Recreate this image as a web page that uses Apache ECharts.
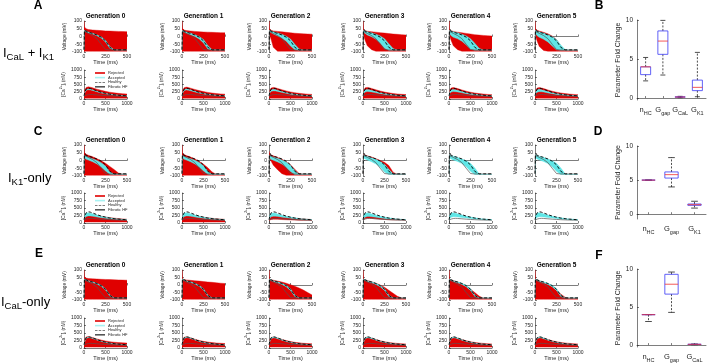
<!DOCTYPE html>
<html>
<head>
<meta charset="utf-8">
<script src="https://cdn.jsdelivr.net/npm/echarts@6/dist/echarts.min.js"></script>
<style>
  html, body { margin: 0; padding: 0; background: #fff; }
  #chart { width: 708px; height: 364px; }
</style>
</head>
<body>
<div id="chart"></div>
<script>
// ---- data ----
const generations = ['Generation 0', 'Generation 1', 'Generation 2', 'Generation 3', 'Generation 4', 'Generation 5'];
const tV = [0, 5, 25, 50, 100, 150, 200, 250, 300, 350, 400, 450, 500];
const tCa = [0, 25, 50, 100, 150, 200, 300, 400, 500, 600, 700, 800, 900, 1000];

// reference traces
const healthyV = [-85, 40, 34, 28, 20, 10, -4, -28, -70, -86, -86, -86, -86];
const hfV = [-85, 32, 27, 20, 6, -14, -50, -84, -87, -87, -87, -87, -87];
const healthyCa = [110, 260, 340, 375, 360, 335, 280, 230, 195, 165, 145, 130, 118, 110];
const hfCa = [95, 110, 130, 150, 155, 152, 140, 128, 118, 110, 104, 99, 95, 92];

const V_FLOOR = [-95, -95, -95, -95, -95, -95, -95, -95, -95, -95, -95, -95, -95];
const CA_FLOOR = [30, 30, 30, 30, 30, 30, 30, 30, 30, 30, 30, 30, 30, 30];

// row A : ICaL + IK1
const A_rejV_hi = [
  [100, 62, 50, 45, 42, 40, 38, 36, 35, 34, 33, 32, 31],
  [100, 52, 42, 38, 35, 33, 31, 29, 28, 27, 26, 25, 24],
  [100, 48, 40, 36, 33, 30, 27, 24, 21, 19, 17, 16, 15],
  [100, 44, 38, 34, 31, 28, 25, 22, 19, 16, 14, 12, 10],
  [100, 44, 37, 33, 28, 24, 20, 16, 12, 9, 7, 5, 3],
  [100, 46, 40, 35, 27, 17, 3, -20, -60, -88, -90, -90, -90]
];
const A_rejV_lo = [
  V_FLOOR,
  V_FLOOR,
  [-85, 15, -20, -70, -95, -95, -95, -95, -95, -95, -95, -95, -95],
  [-85, 10, -25, -60, -85, -95, -95, -95, -95, -95, -95, -95, -95],
  [-85, 10, -25, -60, -85, -95, -95, -95, -95, -95, -95, -95, -95],
  [-85, 5, -30, -65, -90, -95, -95, -95, -95, -95, -95, -95, -95]
];
const A_accV_hi = [
  [-85, 40, 35, 29, 21, 11, -2, -24, -64, -86, -87, -87, -87],
  [-85, 40, 35, 29, 22, 12, 0, -20, -58, -85, -87, -87, -87],
  [-85, 40, 36, 30, 23, 14, 2, -16, -50, -80, -88, -88, -88],
  [-85, 40, 36, 31, 24, 15, 4, -14, -46, -78, -88, -88, -88],
  [-85, 40, 36, 31, 24, 15, 4, -14, -44, -76, -88, -88, -88],
  [-85, 40, 36, 30, 22, 12, 0, -20, -55, -84, -88, -88, -88]
];
const A_accV_lo = [
  [-85, 36, 31, 25, 16, 5, -10, -36, -76, -87, -87, -87, -87],
  [-85, 34, 29, 22, 12, 0, -16, -42, -80, -87, -87, -87, -87],
  [-85, 30, 24, 16, 4, -10, -30, -62, -86, -88, -88, -88, -88],
  [-85, 28, 20, 10, -2, -18, -42, -75, -88, -88, -88, -88, -88],
  [-85, 20, 5, -5, -15, -30, -55, -82, -88, -88, -88, -88, -88],
  [-85, 20, 5, -5, -18, -35, -62, -86, -88, -88, -88, -88, -88]
];
const A_rejCa_hi = [
  [220, 340, 400, 420, 405, 385, 340, 300, 265, 235, 212, 195, 182, 172],
  [200, 330, 390, 410, 395, 375, 330, 290, 255, 228, 205, 188, 176, 166],
  [190, 320, 380, 400, 385, 365, 320, 280, 245, 218, 196, 180, 168, 158],
  [180, 320, 385, 400, 385, 365, 318, 276, 240, 212, 190, 174, 162, 152],
  [180, 320, 380, 395, 380, 360, 312, 270, 235, 208, 186, 170, 158, 150],
  [180, 320, 380, 395, 380, 360, 312, 270, 235, 208, 186, 170, 158, 150]
];
const A_rejCa_lo = [CA_FLOOR, CA_FLOOR, CA_FLOOR, CA_FLOOR, CA_FLOOR, CA_FLOOR];
const A_accCa_hi = [
  [120, 265, 325, 345, 335, 315, 265, 222, 190, 165, 146, 132, 120, 112],
  [120, 265, 325, 345, 335, 315, 265, 222, 190, 165, 146, 132, 120, 112],
  [125, 270, 320, 335, 325, 305, 260, 220, 188, 163, 145, 131, 119, 111],
  [130, 275, 320, 330, 320, 300, 258, 218, 186, 162, 144, 130, 118, 110],
  [130, 275, 320, 330, 320, 300, 258, 218, 186, 162, 144, 130, 118, 110],
  [130, 280, 325, 335, 322, 302, 258, 218, 186, 162, 144, 130, 118, 110]
];
const A_accCa_lo = [
  [110, 240, 300, 320, 312, 295, 250, 210, 180, 157, 140, 126, 115, 108],
  [110, 235, 290, 310, 302, 285, 242, 204, 175, 153, 136, 123, 113, 106],
  [108, 220, 265, 280, 275, 262, 228, 195, 168, 148, 132, 120, 111, 104],
  [105, 200, 240, 255, 252, 242, 212, 184, 160, 142, 128, 117, 108, 102],
  [105, 200, 240, 255, 252, 242, 212, 184, 160, 142, 128, 117, 108, 102],
  [105, 195, 235, 250, 248, 238, 210, 182, 158, 140, 126, 115, 107, 101]
];

// row C : IK1-only
const C_rejV_hi = [
  [100, 46, 40, 34, 24, 12, -2, -18, -38, -58, -80, -90, -90],
  [100, 44, 38, 32, 22, 10, -6, -24, -46, -74, -90, -90, -90],
  [60, 40, 35, 30, 20, 8, -8, -28, -56, -84, -90, -90, -90],
  [-85, 38, 34, 30, 22, 12, 0, -12, -32, -75, -90, -90, -90],
  null,
  null
];
const C_rejV_lo = [
  V_FLOOR,
  V_FLOOR,
  [-85, 15, -5, -30, -60, -85, -95, -95, -95, -95, -95, -95, -95],
  [-85, 34, 30, 26, 18, 8, -6, -26, -60, -88, -90, -90, -90],
  null,
  null
];
const C_accV_hi = [
  [-85, 32, 26, 21, 11, 0, -14, -36, -72, -88, -88, -88, -88],
  [-85, 32, 26, 21, 12, 1, -13, -34, -70, -88, -88, -88, -88],
  [-85, 34, 28, 23, 14, 4, -10, -30, -64, -88, -88, -88, -88],
  [-85, 36, 31, 27, 18, 8, -6, -24, -56, -86, -88, -88, -88],
  [-85, 36, 32, 28, 20, 10, -2, -18, -48, -86, -90, -90, -90],
  [-85, 36, 32, 28, 20, 10, -2, -18, -48, -86, -90, -90, -90]
];
const C_accV_lo = [
  [-85, 18, 8, 3, -8, -22, -42, -68, -88, -90, -90, -90, -90],
  [-85, 18, 8, 3, -8, -22, -42, -68, -88, -90, -90, -90, -90],
  [-85, 17, 7, 2, -9, -23, -43, -71, -90, -90, -90, -90, -90],
  [-85, 18, 10, 4, -8, -22, -42, -74, -90, -90, -90, -90, -90],
  [-85, 18, 10, 4, -6, -20, -40, -70, -90, -90, -90, -90, -90],
  [-85, 18, 10, 4, -6, -20, -40, -70, -90, -90, -90, -90, -90]
];
const C_rejCa_hi = [
  [180, 270, 300, 310, 300, 285, 255, 225, 200, 180, 162, 148, 136, 126],
  [170, 260, 290, 300, 290, 275, 245, 215, 192, 172, 156, 142, 132, 122],
  [150, 235, 262, 272, 264, 252, 226, 200, 178, 160, 146, 134, 124, 116],
  [120, 190, 225, 245, 240, 230, 205, 182, 162, 146, 133, 123, 115, 108],
  null,
  null
];
const C_rejCa_lo = [
  CA_FLOOR,
  CA_FLOOR,
  [80, 100, 115, 125, 125, 122, 115, 108, 102, 97, 93, 90, 88, 86],
  [100, 130, 150, 160, 158, 152, 140, 128, 118, 110, 104, 100, 96, 94],
  null,
  null
];
const C_accCa_hi = [
  [140, 290, 330, 340, 325, 305, 265, 228, 198, 172, 152, 137, 124, 114],
  [140, 290, 330, 340, 325, 305, 265, 228, 198, 172, 152, 137, 124, 114],
  [140, 285, 325, 336, 322, 302, 262, 226, 196, 171, 151, 136, 123, 113],
  [140, 285, 325, 336, 322, 302, 262, 226, 196, 171, 151, 136, 123, 113],
  [140, 290, 330, 340, 325, 305, 265, 228, 198, 172, 152, 137, 124, 114],
  [140, 290, 330, 340, 325, 305, 265, 228, 198, 172, 152, 137, 124, 114]
];
const C_accCa_lo = [
  [110, 175, 215, 235, 232, 222, 198, 176, 157, 140, 126, 115, 106, 100],
  [110, 175, 215, 235, 232, 222, 198, 176, 157, 140, 126, 115, 106, 100],
  [110, 170, 205, 225, 224, 216, 194, 173, 155, 139, 125, 114, 105, 99],
  [110, 165, 195, 215, 215, 208, 188, 169, 152, 137, 124, 113, 105, 99],
  [110, 160, 190, 210, 210, 204, 186, 167, 150, 136, 123, 112, 104, 98],
  [110, 160, 190, 210, 210, 204, 186, 167, 150, 136, 123, 112, 104, 98]
];

// row E : ICaL-only
const E_rejV_hi = [
  [100, 52, 46, 43, 41, 40, 38, 37, 36, 35, 34, 33, 32],
  [100, 42, 37, 34, 31, 28, 26, 23, 20, 18, 15, 12, 10],
  [100, 40, 35, 32, 26, 20, 12, 2, -8, -20, -34, -50, -66],
  [100, 40, 35, 30, 22, 12, 0, -15, -35, -55, -75, -86, -90],
  [100, 40, 35, 30, 20, 8, -8, -28, -50, -74, -88, -90, -90],
  [100, 40, 35, 29, 18, 5, -12, -35, -60, -82, -90, -90, -90]
];
const E_rejV_lo = [V_FLOOR, V_FLOOR, V_FLOOR, V_FLOOR, V_FLOOR, V_FLOOR];
const E_accV_hi = [
  [-85, 40, 35, 29, 21, 11, -2, -25, -66, -86, -87, -87, -87],
  [-85, 40, 35, 29, 21, 11, -2, -25, -66, -86, -87, -87, -87],
  [-85, 40, 35, 29, 21, 11, -2, -25, -66, -86, -87, -87, -87],
  [-85, 40, 35, 29, 21, 11, -2, -25, -66, -86, -87, -87, -87],
  [-85, 40, 35, 29, 21, 11, -2, -25, -66, -86, -87, -87, -87],
  [-85, 40, 35, 29, 21, 11, -2, -25, -66, -86, -87, -87, -87]
];
const E_accV_lo = [
  [-85, 37, 32, 26, 17, 6, -8, -33, -74, -87, -87, -87, -87],
  [-85, 37, 32, 26, 17, 6, -8, -33, -74, -87, -87, -87, -87],
  [-85, 36, 31, 25, 15, 4, -11, -36, -76, -87, -87, -87, -87],
  [-85, 36, 31, 25, 15, 4, -11, -36, -76, -87, -87, -87, -87],
  [-85, 36, 31, 25, 15, 4, -11, -36, -76, -87, -87, -87, -87],
  [-85, 36, 31, 25, 15, 4, -11, -36, -76, -87, -87, -87, -87]
];
const E_rejCa_hi = [
  [200, 320, 370, 382, 368, 348, 302, 264, 234, 212, 194, 182, 172, 164],
  [185, 310, 360, 372, 358, 338, 292, 252, 222, 198, 180, 167, 157, 150],
  [175, 300, 352, 366, 352, 332, 287, 247, 215, 190, 172, 158, 148, 140],
  [170, 295, 348, 362, 348, 328, 283, 243, 210, 186, 168, 154, 144, 136],
  [170, 295, 348, 362, 348, 328, 283, 243, 210, 186, 168, 154, 144, 136],
  [170, 295, 348, 362, 348, 328, 283, 243, 210, 186, 168, 154, 144, 136]
];
const E_rejCa_lo = [CA_FLOOR, CA_FLOOR, CA_FLOOR, CA_FLOOR, CA_FLOOR, CA_FLOOR];
const E_accCa_hi = [
  [115, 262, 338, 368, 355, 332, 278, 228, 193, 163, 143, 128, 117, 109],
  [115, 262, 338, 368, 355, 332, 278, 228, 193, 163, 143, 128, 117, 109],
  [115, 262, 338, 368, 355, 332, 278, 228, 193, 163, 143, 128, 117, 109],
  [115, 262, 338, 368, 355, 332, 278, 228, 193, 163, 143, 128, 117, 109],
  [115, 262, 338, 368, 355, 332, 278, 228, 193, 163, 143, 128, 117, 109],
  [115, 262, 338, 368, 355, 332, 278, 228, 193, 163, 143, 128, 117, 109]
];
const E_accCa_lo = [
  [108, 245, 318, 350, 338, 316, 265, 218, 185, 157, 138, 124, 113, 106],
  [108, 245, 318, 350, 338, 316, 265, 218, 185, 157, 138, 124, 113, 106],
  [108, 240, 310, 342, 330, 310, 260, 214, 182, 155, 136, 122, 112, 105],
  [108, 240, 310, 342, 330, 310, 260, 214, 182, 155, 136, 122, 112, 105],
  [108, 240, 310, 342, 330, 310, 260, 214, 182, 155, 136, 122, 112, 105],
  [108, 240, 310, 342, 330, 310, 260, 214, 182, 155, 136, 122, 112, 105]
];

// boxplots: [min, q1, median, q3, max]
const B_cats = ['n_HC', 'G_gap', 'G_CaL', 'G_K1'];
const B_stats = [[2.2, 3, 4, 4, 5.2], [2.95, 5.6, 7.3, 8.6, 9.95], [0.05, 0.1, 0.13, 0.17, 0.22], [0.17, 0.95, 1.37, 2.3, 5.85]];
const D_cats = ['n_HC', 'G_gap', 'G_K1'];
const D_stats = [[5, 5, 5, 5, 5], [4, 5.3, 5.8, 6.2, 8.3], [0.9, 1.3, 1.4, 1.5, 1.9]];
const F_cats = ['n_HC', 'G_gap', 'G_CaL'];
const F_stats = [[3.1, 4, 4, 4, 4], [4.3, 6.7, 8, 9.3, 9.6], [0.05, 0.08, 0.1, 0.12, 0.15]];
const boxTicks = [0, 5, 10];

// ---- layout ----
const FONT = 'Liberation Sans, Arial, sans-serif';
const INK = '#262626';
const RED = '#e00000';
const CYAN = '#5fe6e6';
const colX = [84, 182, 269, 363, 449, 535];
const PW = 43;

const rows = [
  { vTop: 21, vH: 31, cTop: 70, cH: 29,
    rejV: [A_rejV_lo, A_rejV_hi], accV: [A_accV_lo, A_accV_hi], rejCa: [A_rejCa_lo, A_rejCa_hi], accCa: [A_accCa_lo, A_accCa_hi] },
  { vTop: 145, vH: 31, cTop: 193, cH: 30,
    rejV: [C_rejV_lo, C_rejV_hi], accV: [C_accV_lo, C_accV_hi], rejCa: [C_rejCa_lo, C_rejCa_hi], accCa: [C_accCa_lo, C_accCa_hi] },
  { vTop: 270, vH: 30, cTop: 318, cH: 30,
    rejV: [E_rejV_lo, E_rejV_hi], accV: [E_accV_lo, E_accV_hi], rejCa: [E_rejCa_lo, E_rejCa_hi], accCa: [E_accCa_lo, E_accCa_hi] }
];

const grid = [], xAxis = [], yAxis = [], series = [], legend = [], graphic = [];

function axisBase() {
  return {
    axisLine: { show: true, lineStyle: { color: INK, width: 0.6 } },
    axisTick: { show: true, inside: true, length: 2, lineStyle: { color: INK, width: 0.6 } },
    axisLabel: { fontSize: 5, margin: 2, color: INK, fontFamily: FONT, formatter: v => String(v) },
    splitLine: { show: false }
  };
}

// band between lo and hi envelopes: one polygon built through the axis scales
function band(gi, t, lo, hi, color, name, z) {
  series.push({
    type: 'custom', name, xAxisIndex: gi, yAxisIndex: gi, silent: true, z, clip: true,
    itemStyle: { color },
    data: t.map((x, i) => [x, lo[i], hi[i]]),
    renderItem(params, api) {
      if (params.dataIndexInside !== 0) return null;
      const n = params.dataInsideLength;
      const pts = [];
      for (let j = 0; j < n; j++) pts.push(api.coord([api.value(0, j), api.value(1, j)]));
      for (let j = n - 1; j >= 0; j--) pts.push(api.coord([api.value(0, j), api.value(2, j)]));
      return {
        type: 'polygon', shape: { points: pts },
        style: { fill: color, stroke: color, lineWidth: 0.4 }
      };
    }
  });
}

function trace(gi, t, v, name, style, z) {
  series.push({
    type: 'line', name, xAxisIndex: gi, yAxisIndex: gi, data: t.map((x, i) => [x, v[i]]),
    symbol: 'none', silent: true, z, lineStyle: style, itemStyle: { color: style.color }
  });
}

function panel(left, top, h, t, xmax, yr, yname, yGap, rej, acc, ref, hf, g) {
  const gi = grid.length;
  grid.push({ left, top, width: PW, height: h });
  xAxis.push(Object.assign(axisBase(), {
    gridIndex: gi, type: 'value', min: 0, max: xmax, interval: xmax / 2,
    name: 'Time (ms)', nameLocation: 'middle', nameGap: 7,
    nameTextStyle: { fontSize: 5.5, color: INK, fontFamily: FONT }
  }));
  yAxis.push(Object.assign(axisBase(), {
    gridIndex: gi, type: 'value', min: yr[0], max: yr[1], interval: yr[2],
    name: yname, nameLocation: 'middle', nameGap: yGap,
    nameTextStyle: { fontSize: 4.8, color: INK, fontFamily: FONT, lineHeight: 7,
      rich: { sup: { fontSize: 3.4, lineHeight: 4, verticalAlign: 'top' }, sub: { fontSize: 3.4, lineHeight: 4, verticalAlign: 'bottom' } } }
  }));
  if (rej[1][g]) band(gi, t, rej[0][g], rej[1][g], RED, 'Rejected', 2);
  if (acc[1][g]) band(gi, t, acc[0][g], acc[1][g], CYAN, 'Accepted', 3);
  trace(gi, t, hf, 'Fibrotic HF', { color: '#555', width: 0.7 }, 4);
  trace(gi, t, ref, 'Healthy', { color: '#000', width: 0.9, type: [3, 2] }, 5);
  return gi;
}

rows.forEach((r) => {
  generations.forEach((gname, g) => {
    const x = colX[g];
    panel(x, r.vTop, r.vH, tV, 500, [-100, 100, 50], 'Voltage (mV)', 13, r.rejV, r.accV, healthyV, hfV, g);
    panel(x, r.cTop, r.cH, tCa, 1000, [0, 1000, 250], '[Ca{sup|2+}]{sub|i} (nM)', 14, r.rejCa, r.accCa, healthyCa, hfCa, g);
    graphic.push({
      type: 'text', x: x + PW / 2, y: r.vTop - 5,
      style: { text: gname, textAlign: 'center', textVerticalAlign: 'middle', font: 'bold 6.5px ' + FONT, fill: '#000' }
    });
  });
  legend.push({
    orient: 'vertical', left: colX[0] + 11, top: r.cTop + 1, itemWidth: 10, itemHeight: 1.6, itemGap: 0.6,
    padding: 0, selectedMode: false,
    textStyle: { fontSize: 4, lineHeight: 4, color: INK, fontFamily: FONT, padding: [0, 0, 0, -2] },
    data: [
      { name: 'Rejected', icon: 'rect', itemStyle: { color: RED } },
      { name: 'Accepted', icon: 'rect', itemStyle: { color: '#a8f2f2' } },
      { name: 'Healthy', icon: 'path://M0,0h4v1h-4z M6,0h4v1h-4z M12,0h4v1h-4z', itemStyle: { color: '#000' } },
      { name: 'Fibrotic HF', icon: 'rect', itemStyle: { color: '#555' } }
    ]
  });
});

// boxplots
const subLabel = {
  n_HC: '{m|n}{s|HC}', G_gap: '{m|G}{s|gap}', G_CaL: '{m|G}{s|CaL}', G_K1: '{m|G}{s|K1}'
};
function boxPanel(top, h, ymin, cats, stats) {
  const gi = grid.length;
  grid.push({ left: 637, top, width: 69, height: h });
  xAxis.push({
    gridIndex: gi, type: 'category', data: cats, boundaryGap: true,
    axisLine: { show: true, lineStyle: { color: INK, width: 0.6 } },
    axisTick: { show: true, inside: true, length: 2, alignWithLabel: true, interval: 0, lineStyle: { color: INK, width: 0.6 } },
    axisLabel: {
      margin: 4, interval: 0, color: INK, formatter: v => subLabel[v],
      rich: { m: { fontSize: 7.5, lineHeight: 12, fontFamily: FONT, color: INK },
              s: { fontSize: 5.5, lineHeight: 5, verticalAlign: 'bottom', fontFamily: FONT, color: INK } }
    }
  });
  yAxis.push({
    gridIndex: gi, type: 'value', min: ymin, max: 10,
    name: 'Parameter Fold Change', nameLocation: 'middle', nameGap: 13,
    nameTextStyle: { fontSize: 7, color: INK, fontFamily: FONT },
    axisLine: { show: true, lineStyle: { color: INK, width: 0.6 } },
    axisTick: { show: true, inside: true, length: 2, customValues: boxTicks, lineStyle: { color: INK, width: 0.6 } },
    axisLabel: { fontSize: 6.5, margin: 4, color: INK, fontFamily: FONT, customValues: boxTicks },
    splitLine: { show: false }
  });
  series.push({
    type: 'custom', xAxisIndex: gi, yAxisIndex: gi, silent: true, z: 3,
    data: stats.map((s, i) => [i].concat(s)),
    renderItem(params, api) {
      const i = api.value(0);
      const pMin = api.coord([i, api.value(1)]);
      const pQ1 = api.coord([i, api.value(2)]);
      const pMed = api.coord([i, api.value(3)]);
      const pQ3 = api.coord([i, api.value(4)]);
      const pMax = api.coord([i, api.value(5)]);
      const bw = api.size([1, 0])[0] * 0.58;
      const x = pMed[0], hw = bw / 2, cw = bw / 4;
      const dash = { stroke: '#000', lineWidth: 0.7, lineDash: [2, 1.5] };
      const solid = { stroke: '#000', lineWidth: 0.7 };
      return {
        type: 'group',
        children: [
          { type: 'line', shape: { x1: x, y1: pQ3[1], x2: x, y2: pMax[1] }, style: dash },
          { type: 'line', shape: { x1: x, y1: pQ1[1], x2: x, y2: pMin[1] }, style: dash },
          { type: 'line', shape: { x1: x - cw, y1: pMax[1], x2: x + cw, y2: pMax[1] }, style: solid },
          { type: 'line', shape: { x1: x - cw, y1: pMin[1], x2: x + cw, y2: pMin[1] }, style: solid },
          { type: 'rect', shape: { x: x - hw, y: pQ3[1], width: bw, height: pQ1[1] - pQ3[1] },
            style: { fill: 'none', stroke: '#3a3af5', lineWidth: 0.8 } },
          { type: 'line', shape: { x1: x - hw, y1: pMed[1], x2: x + hw, y2: pMed[1] },
            style: { stroke: '#f03030', lineWidth: 0.8 } }
        ]
      };
    }
  });
}
boxPanel(20, 80, -0.25, B_cats, B_stats);
boxPanel(146, 73, -0.7, D_cats, D_stats);
boxPanel(269, 78, -0.25, F_cats, F_stats);

// panel letters
[['A', 38, 6], ['B', 599, 6], ['C', 38, 132], ['D', 598, 132], ['E', 39, 254], ['F', 599, 256]].forEach(([t, x, y]) => {
  graphic.push({ type: 'text', x, y, style: { text: t, textAlign: 'center', textVerticalAlign: 'middle', font: 'bold 12px ' + FONT, fill: '#000' } });
});

// row labels
const rowRich = {
  m: { fontSize: 13, lineHeight: 18, fontFamily: FONT, color: '#000' },
  s: { fontSize: 9.5, lineHeight: 9, verticalAlign: 'bottom', fontFamily: FONT, color: '#000' }
};
[['{m|I}{s|CaL}{m| + I}{s|K1}', 3, 44], ['{m|I}{s|K1}{m|-only}', 8, 169], ['{m|I}{s|CaL}{m|-only}', 1, 293]].forEach(([t, x, y]) => {
  graphic.push({ type: 'text', x, y, style: { text: t, rich: rowRich } });
});

const chart = echarts.init(document.getElementById('chart'), null, { renderer: 'canvas' });
chart.setOption({
  animation: false,
  textStyle: { fontFamily: FONT },
  grid, xAxis, yAxis, series, legend, graphic
});
</script>
</body>
</html>
